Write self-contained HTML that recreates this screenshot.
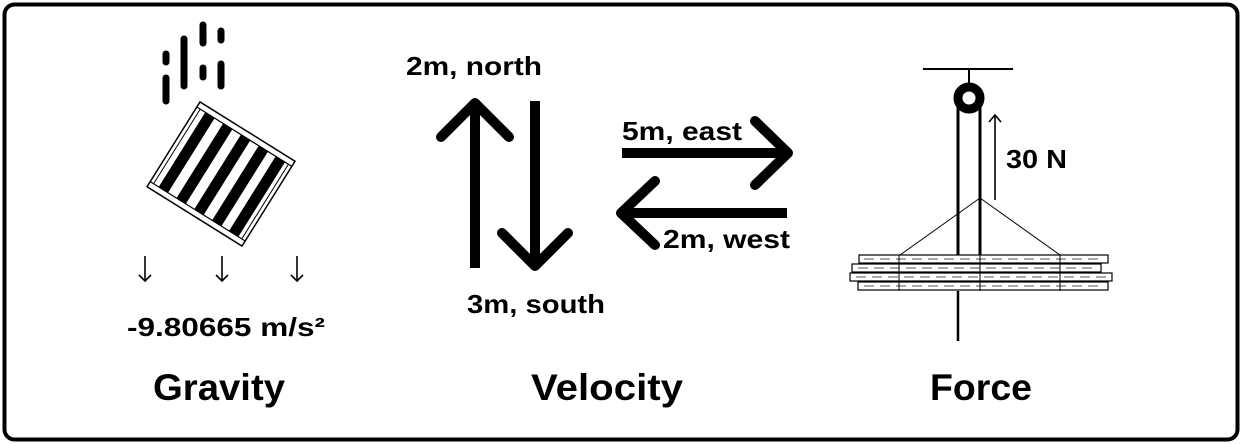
<!DOCTYPE html>
<html><head><meta charset="utf-8"><style>
html,body{margin:0;padding:0;background:#fff}
svg{display:block}
text{font-family:"Liberation Sans",sans-serif;font-weight:bold;fill:#000}
</style></head><body>
<svg width="1242" height="444" viewBox="0 0 1242 444" xmlns="http://www.w3.org/2000/svg">
<rect x="4.5" y="4.5" width="1233" height="435" rx="10" fill="#fff" stroke="#000" stroke-width="4"/>

<g>
 <g stroke="#000" stroke-width="7" stroke-linecap="round">
  <line x1="166" y1="54" x2="166" y2="62"/><line x1="166" y1="78" x2="166" y2="101"/>
  <line x1="184" y1="39" x2="184" y2="86"/>
  <line x1="203" y1="25" x2="203" y2="43"/><line x1="203" y1="68" x2="203" y2="77"/>
  <line x1="221" y1="31" x2="221" y2="40"/><line x1="221" y1="64" x2="221" y2="86"/>
 </g>
 <g transform="translate(221,174) rotate(32)">
  <rect x="-56" y="-50" width="112" height="100" fill="#fff" stroke="#000" stroke-width="1.5"/>
  <line x1="-56" y1="-44" x2="56" y2="-44" stroke="#000" stroke-width="1.2"/>
  <line x1="-56" y1="44" x2="56" y2="44" stroke="#000" stroke-width="1.2"/>
  <line x1="-52" y1="-44" x2="-52" y2="44" stroke="#000" stroke-width="1"/>
  <line x1="52" y1="-44" x2="52" y2="44" stroke="#000" stroke-width="1"/>
  <g fill="#000">
   <rect x="-46" y="-44" width="11" height="88"/>
   <rect x="-25" y="-44" width="11" height="88"/>
   <rect x="-4" y="-44" width="11" height="88"/>
   <rect x="17" y="-44" width="11" height="88"/>
   <rect x="37" y="-44" width="11" height="88"/>
  </g>
 </g>
 <g stroke="#000" stroke-width="1.6" fill="none">
  <line x1="145" y1="256" x2="145" y2="281"/><polyline points="139,275 145,281 151,275"/>
  <line x1="222" y1="256" x2="222" y2="281"/><polyline points="216,275 222,281 228,275"/>
  <line x1="297" y1="256" x2="297" y2="281"/><polyline points="291,275 297,281 303,275"/>
 </g>
 <text x="127" y="336" font-size="26" textLength="198" lengthAdjust="spacingAndGlyphs">-9.80665 m/s²</text>
 <text x="153" y="400" font-size="37" textLength="132" lengthAdjust="spacingAndGlyphs">Gravity</text>
</g>

<g>
 <g stroke="#000" stroke-width="10" fill="none" stroke-linecap="round" stroke-linejoin="round">
  <g><line x1="475" y1="106" x2="475" y2="268" stroke-linecap="butt"/><polyline points="441,137 475,103 509,137"/></g>
  <g><line x1="535" y1="101" x2="535" y2="262" stroke-linecap="butt"/><polyline points="502,233 535,266 568,233"/></g>
  <g><line x1="622" y1="153" x2="786" y2="153" stroke-linecap="butt"/><polyline points="755,121 788,153 755,185"/></g>
  <g><line x1="624" y1="213" x2="787" y2="213" stroke-linecap="butt"/><polyline points="655,181 621,213 655,245"/></g>
 </g>
 <text x="406" y="75" font-size="26" textLength="136" lengthAdjust="spacingAndGlyphs">2m, north</text>
 <text x="467" y="313" font-size="26" textLength="138" lengthAdjust="spacingAndGlyphs">3m, south</text>
 <text x="622" y="140" font-size="26" textLength="120" lengthAdjust="spacingAndGlyphs">5m, east</text>
 <text x="663" y="248" font-size="26" textLength="127" lengthAdjust="spacingAndGlyphs">2m, west</text>
 <text x="531" y="400" font-size="37" textLength="152" lengthAdjust="spacingAndGlyphs">Velocity</text>
</g>

<g>
 <line x1="923" y1="69" x2="1013" y2="69" stroke="#000" stroke-width="2"/>
 <line x1="969" y1="69" x2="969" y2="86" stroke="#000" stroke-width="2"/>
 <circle cx="969" cy="98" r="11" fill="none" stroke="#000" stroke-width="9"/>
 <g stroke="#000">
  <line x1="958" y1="100" x2="958" y2="256" stroke-width="3"/>
  <line x1="980" y1="100" x2="980" y2="256" stroke-width="3"/>
  <line x1="958" y1="291" x2="958" y2="341" stroke-width="2.5"/>
  <line x1="980" y1="198" x2="900" y2="255" stroke-width="1"/>
  <line x1="980" y1="198" x2="1060" y2="255" stroke-width="1"/>
 </g>
 <g stroke="#000" stroke-width="1.6" fill="none">
  <line x1="995" y1="200" x2="995" y2="116"/><polyline points="989,122 995,115 1001,122"/>
 </g>
 <text x="1006" y="168" font-size="26" textLength="61" lengthAdjust="spacingAndGlyphs">30 N</text>
 <g fill="#fff" stroke="#000" stroke-width="1.2">
  <rect x="859" y="255" width="249" height="8"/>
  <rect x="852" y="264" width="249" height="8"/>
  <rect x="850" y="273" width="262" height="8"/>
  <rect x="858" y="282" width="250" height="8"/>
  <g stroke="#555" stroke-width="1" stroke-dasharray="10 6">
   <line x1="864" y1="259" x2="1104" y2="259"/>
   <line x1="858" y1="268" x2="1098" y2="268"/>
   <line x1="856" y1="277" x2="1108" y2="277"/>
   <line x1="864" y1="286" x2="1104" y2="286"/>
  </g>
  <line x1="899" y1="255" x2="899" y2="291" stroke-width="1"/>
  <line x1="980" y1="255" x2="980" y2="291" stroke-width="1"/>
  <line x1="1060" y1="255" x2="1060" y2="291" stroke-width="1"/>
 </g>
 <text x="930" y="400" font-size="37" textLength="102" lengthAdjust="spacingAndGlyphs">Force</text>
</g>
</svg>
</body></html>
